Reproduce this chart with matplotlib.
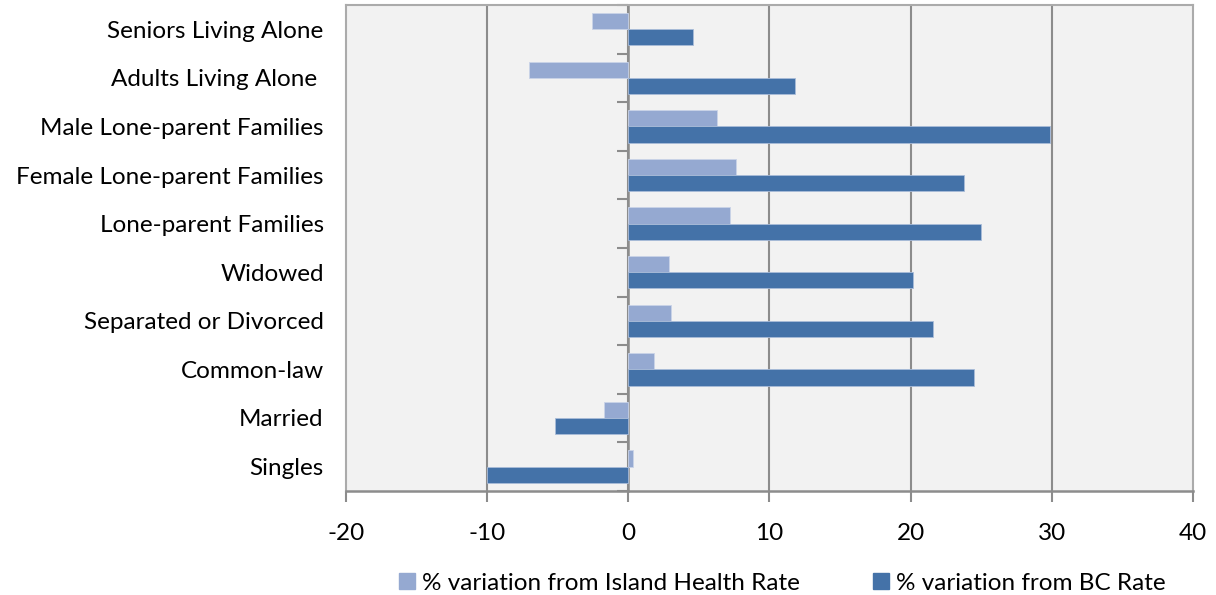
import numpy as np
import matplotlib.pyplot as plt
from matplotlib.patches import Patch

plt.rcParams["font.family"] = ["Lato", "DejaVu Sans"]
plt.rcParams["axes.unicode_minus"] = False

categories = [
    "Singles",
    "Married",
    "Common-law",
    "Separated or Divorced",
    "Widowed",
    "Lone-parent Families",
    "Female Lone-parent Families",
    "Male Lone-parent Families",
    "Adults Living Alone ",
    "Seniors Living Alone",
]
island_health = [0.3, -1.7, 1.8, 3.0, 2.9, 7.2, 7.6, 6.3, -7.0, -2.6]
bc_rate = [-10.0, -5.2, 24.5, 21.6, 20.2, 25.0, 23.8, 29.9, 11.8, 4.6]
x_ticks = [-20, -10, 0, 10, 20, 30, 40]

light = "#95A9D1"
dark = "#4472A8"
grid_grey = "#8C8C8C"
fs = 17.5

fig = plt.figure(figsize=(12.16, 5.95), dpi=100)
ax = fig.add_axes([0.2845, 0.175, 0.6965, 0.8167])
ax.set_facecolor("#F2F2F2")

y = np.arange(len(categories))
h = 1 / 3
ax.barh(y + h / 2, island_health, height=h, color=light,
        edgecolor="#C9D3E8", linewidth=0.6, zorder=3,
        label="% variation from Island Health Rate")
ax.barh(y - h / 2, bc_rate, height=h, color=dark,
        edgecolor="#A9BCD9", linewidth=0.6, zorder=3,
        label="% variation from BC Rate")

ax.set_xlim(x_ticks[0], x_ticks[-1])
ax.set_ylim(-0.5, len(categories) - 0.5)

# vertical gridlines
for xv in x_ticks[1:-1]:
    ax.axvline(xv, color=grid_grey, linewidth=1.5, zorder=1)

# plot area border
for side in ("left", "top", "right"):
    ax.spines[side].set_color("#ABABAB")
    ax.spines[side].set_linewidth(1.5)
ax.spines["bottom"].set_color(grid_grey)
ax.spines["bottom"].set_linewidth(1.8)

ax.set_xticks(x_ticks)
ax.tick_params(axis="x", direction="out", length=8, width=1.5,
               color=grid_grey, labelsize=fs, pad=15)

ax.set_yticks(y)
ax.set_yticklabels(categories)
ax.tick_params(axis="y", length=0, labelsize=fs, pad=16)

# category axis sitting on the zero line
zero_frac = (0 - x_ticks[0]) / (x_ticks[-1] - x_ticks[0])
cat_axis = ax.secondary_yaxis(zero_frac)
cat_axis.set_yticks(np.arange(len(categories) + 1) - 0.5)
cat_axis.set_yticklabels([])
cat_axis.tick_params(direction="out", length=8, width=1.5, color=grid_grey)
cat_axis.spines["left"].set_color(grid_grey)
cat_axis.spines["left"].set_linewidth(1.8)

handles = [Patch(color=light), Patch(color=dark)]
labels = ["% variation from Island Health Rate", "% variation from BC Rate"]
ax.legend(handles, labels, loc="center", bbox_to_anchor=(0.515, -0.19),
          ncol=2, frameon=False, fontsize=fs, handlelength=0.65,
          handleheight=0.65, handletextpad=0.3, columnspacing=3.0)

fig.savefig("out.png", dpi=100)
